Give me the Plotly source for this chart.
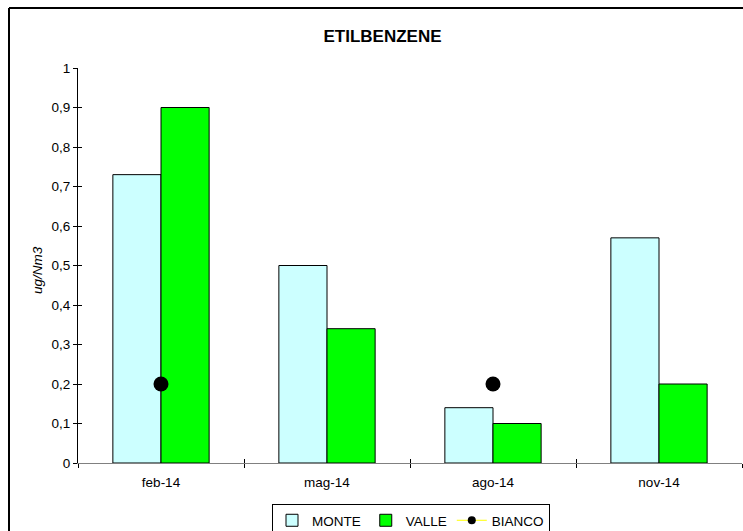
import plotly.graph_objects as go

# Sampling campaigns and measured concentrations (ug/Nm3)
periods = ["feb-14", "mag-14", "ago-14", "nov-14"]
monte = [0.73, 0.50, 0.14, 0.57]
valle = [0.90, 0.34, 0.10, 0.20]
bianco = [0.20, None, 0.20, None]
y_ticks = [0, 0.1, 0.2, 0.3, 0.4, 0.5, 0.6, 0.7, 0.8, 0.9, 1]

W, H = 743, 531
ML, MR, MT, MB = 78, 1, 68, 68
pw, ph = W - ML - MR, H - MT - MB

def px_x(x):
    return (x - ML) / pw

def px_y(y):
    return (H - MB - y) / ph

font = "Liberation Sans, Arial, sans-serif"
fs = 13.5

fig = go.Figure()
fig.add_trace(go.Bar(
    x=periods, y=monte, name="MONTE",
    marker=dict(color="#CCFFFF", line=dict(color="black", width=1)),
))
fig.add_trace(go.Bar(
    x=periods, y=valle, name="VALLE",
    marker=dict(color="#00FF00", line=dict(color="black", width=1)),
))
fig.add_trace(go.Scatter(
    x=periods, y=bianco, name="BIANCO", mode="lines+markers",
    line=dict(color="#FFFF00", width=1),
    marker=dict(color="black", size=15),
    connectgaps=False, showlegend=False, legendgroup="bianco",
))
# legend entry for BIANCO with a smaller symbol
fig.add_trace(go.Scatter(
    x=[None], y=[None], name="BIANCO", mode="lines+markers",
    line=dict(color="#FFFF00", width=1),
    marker=dict(color="black", size=8),
    legendgroup="bianco", hoverinfo="skip",
))
# invisible companion trace so the overlay axes (inner tick halves) render
fig.add_trace(go.Scatter(
    x=periods, y=[None] * len(periods), xaxis="x2", yaxis="y2",
    showlegend=False, hoverinfo="skip", mode="markers",
))

axis_common = dict(showgrid=False, zeroline=False)
fig.update_layout(
    width=W, height=H,
    margin=dict(l=ML, r=MR, t=MT, b=MB, autoexpand=False),
    paper_bgcolor="white", plot_bgcolor="white",
    separators=",.",
    barmode="group", bargap=0.42, bargroupgap=0,
    font=dict(family=font, size=fs, color="black"),
    showlegend=True,
    legend=dict(
        orientation="h", xref="container", x=411 / W, xanchor="center",
        yref="container", y=1 - 504 / H, yanchor="top",
        bgcolor="white", bordercolor="black", borderwidth=1,
        font=dict(family=font, size=fs, color="black"),
        itemwidth=30, tracegroupgap=0,
    ),
    xaxis=dict(
        type="category", categoryorder="array", categoryarray=periods,
        range=[-0.5, 3.5], showline=True, linecolor="#808080", linewidth=1,
        ticks="outside", ticklen=4, tickcolor="black", tickson="boundaries",
        ticklabelstandoff=7,
        tickfont=dict(family=font, size=fs, color="black"),
        **axis_common,
    ),
    yaxis=dict(
        range=[0, 1], tickvals=y_ticks, showline=True, linecolor="black",
        linewidth=1, ticks="outside", ticklen=4, tickcolor="black",
        tickfont=dict(family=font, size=fs, color="black"),
        **axis_common,
    ),
    xaxis2=dict(
        type="category", categoryorder="array", categoryarray=periods,
        range=[-0.5, 3.5], overlaying="x", ticks="inside", ticklen=4,
        tickcolor="black", tickson="boundaries", showticklabels=False,
        showline=False, **axis_common,
    ),
    yaxis2=dict(
        range=[0, 1], tickvals=y_ticks, overlaying="y", ticks="inside",
        ticklen=4, tickcolor="black", showticklabels=False,
        showline=False, **axis_common,
    ),
    title=dict(
        text="<b>ETILBENZENE</b>", xref="paper", x=px_x(382.5), xanchor="center",
        yref="container", y=1 - 36 / H, yanchor="middle",
        font=dict(family=font, size=17, color="black"),
    ),
)

fig.add_annotation(
    text="<i>ug/Nm3</i>", xref="paper", yref="paper",
    x=px_x(37), y=px_y(270), xanchor="center", yanchor="middle",
    textangle=-90, showarrow=False,
    font=dict(family=font, size=fs, color="black"),
)

# outer chart frame: left and top edges (the rest lies past the page edges)
fig.add_shape(
    type="line", xref="paper", yref="paper",
    x0=px_x(9), x1=px_x(9), y0=px_y(H), y1=px_y(8),
    line=dict(color="black", width=2), layer="below",
)
fig.add_shape(
    type="line", xref="paper", yref="paper",
    x0=px_x(9), x1=px_x(W), y0=px_y(8), y1=px_y(8),
    line=dict(color="black", width=2), layer="below",
)

fig.write_html("out.html")
